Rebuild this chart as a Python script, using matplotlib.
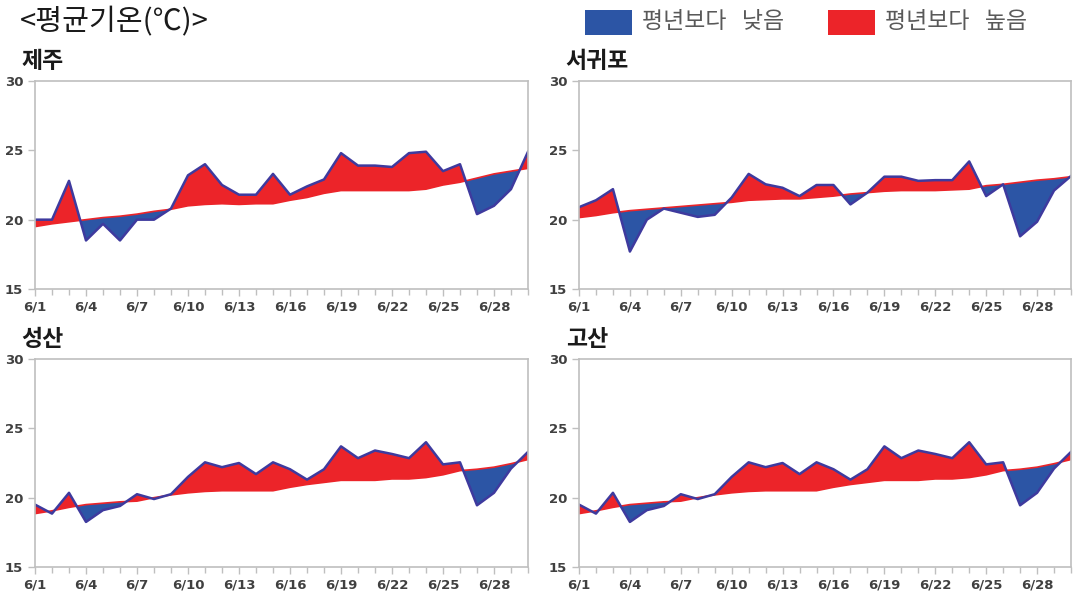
#!/usr/bin/env python3
"""Daily mean temperature vs normal for four Jeju stations, June."""
import numpy as np
import matplotlib

matplotlib.use("Agg")
import matplotlib.pyplot as plt
from matplotlib.patches import Rectangle

plt.rcParams["font.family"] = ["Noto Sans CJK KR", "DejaVu Sans"]

DAYS = [f"6/{d}" for d in range(1, 31)]

STATIONS = ["제주", "서귀포", "성산", "고산"]

jeju_obs = [20.0, 20.0, 22.8, 18.5, 19.7, 18.5, 20.0, 20.0, 20.8, 23.2,
            24.0, 22.5, 21.8, 21.8, 23.3, 21.8, 22.4, 22.9, 24.8, 23.9,
            23.9, 23.8, 24.8, 24.9, 23.5, 24.0, 20.4, 21.0, 22.2, 24.9]
jeju_norm = [19.5, 19.7, 19.85, 20.0, 20.15, 20.25, 20.4, 20.6, 20.75, 21.0,
             21.1, 21.15, 21.1, 21.15, 21.15, 21.4, 21.6, 21.9, 22.1, 22.1,
             22.1, 22.1, 22.1, 22.2, 22.5, 22.7, 23.0, 23.3, 23.5, 23.7]

seogwipo_obs = [20.9, 21.4, 22.2, 17.7, 20.0, 20.8, 20.5, 20.2, 20.35, 21.6,
                23.3, 22.55, 22.3, 21.7, 22.5, 22.5, 21.1, 21.95, 23.1, 23.1,
                22.8, 22.85, 22.85, 24.2, 21.7, 22.55, 18.8, 19.85, 22.1, 23.15]
seogwipo_norm = [20.15, 20.3, 20.5, 20.65, 20.75, 20.85, 20.95, 21.05, 21.15, 21.25,
                 21.4, 21.45, 21.5, 21.5, 21.6, 21.7, 21.85, 21.95, 22.05, 22.1,
                 22.1, 22.1, 22.15, 22.2, 22.45, 22.55, 22.7, 22.85, 22.95, 23.1]

seongsan_obs = [19.5, 18.85, 20.35, 18.25, 19.1, 19.4, 20.25, 19.9, 20.25, 21.5,
                22.55, 22.2, 22.5, 21.7, 22.55, 22.05, 21.3, 22.05, 23.7, 22.85,
                23.4, 23.15, 22.85, 24.0, 22.4, 22.55, 19.45, 20.35, 22.1, 23.3]
seongsan_norm = [18.85, 19.05, 19.3, 19.5, 19.6, 19.7, 19.75, 20.0, 20.2, 20.35,
                 20.45, 20.5, 20.5, 20.5, 20.5, 20.75, 20.95, 21.1, 21.25, 21.25,
                 21.25, 21.35, 21.35, 21.45, 21.65, 21.95, 22.05, 22.2, 22.45, 22.75]

gosan_obs = [19.5, 18.85, 20.35, 18.25, 19.1, 19.4, 20.25, 19.9, 20.25, 21.5,
             22.55, 22.2, 22.5, 21.7, 22.55, 22.05, 21.3, 22.05, 23.7, 22.85,
             23.4, 23.15, 22.85, 24.0, 22.4, 22.55, 19.45, 20.35, 22.1, 23.3]
gosan_norm = [18.85, 19.05, 19.3, 19.5, 19.6, 19.7, 19.75, 20.0, 20.2, 20.35,
              20.45, 20.5, 20.5, 20.5, 20.5, 20.75, 20.95, 21.1, 21.25, 21.25,
              21.25, 21.35, 21.35, 21.45, 21.65, 21.95, 22.05, 22.2, 22.45, 22.75]

SERIES = [(jeju_obs, jeju_norm), (seogwipo_obs, seogwipo_norm),
          (seongsan_obs, seongsan_norm), (gosan_obs, gosan_norm)]

BLUE = "#2C55A5"
RED = "#EC2429"
LINE = "#3E3A9E"
GRID = "#BFBFBF"
TEXT = "#404040"

W, H = 1077, 592
# axes boxes in pixels: left, top, right, bottom
BOXES = [(35, 81, 528, 289), (579, 81, 1071, 289),
         (35, 359, 528, 567), (579, 359, 1071, 567)]


def draw_panel(ax, name, obs, norm):
    x = np.arange(len(DAYS))
    obs = np.asarray(obs)
    norm = np.asarray(norm)
    ax.fill_between(x, obs, norm, where=obs >= norm, interpolate=True,
                    color=RED, lw=0)
    ax.fill_between(x, obs, norm, where=obs < norm, interpolate=True,
                    color=BLUE, lw=0)
    ax.plot(x, norm, color=RED, lw=1.2)
    ax.plot(x, obs, color=LINE, lw=1.8)

    ax.set_xlim(0, len(DAYS) - 1)
    ax.set_ylim(15, 30)
    ax.set_yticks([15, 20, 25, 30])
    ax.set_xticks(x[::3])
    ax.set_xticklabels(DAYS[::3])
    ax.set_xticks(x, minor=True)
    ax.tick_params(axis="both", which="both", direction="out", color=GRID,
                   labelcolor=TEXT, labelsize=9.5)
    ax.tick_params(axis="both", which="major", length=5, width=1)
    ax.tick_params(axis="x", which="minor", length=4, width=1)
    for lab in ax.get_xticklabels() + ax.get_yticklabels():
        lab.set_fontweight("bold")
        lab.set_family(["DejaVu Sans"])
    for side in ("left", "bottom", "top", "right"):
        ax.spines[side].set_color(GRID)
        ax.spines[side].set_linewidth(1.2)
    ax.text(-0.027, 1.04, name, transform=ax.transAxes, fontsize=16.5,
            fontweight="bold", color="#1a1a1a", ha="left", va="bottom")


def main():
    fig = plt.figure(figsize=(W / 100, H / 100), dpi=100)
    for (l, t, r, b), name, (obs, norm) in zip(BOXES, STATIONS, SERIES):
        ax = fig.add_axes([l / W, 1 - b / H, (r - l) / W, (b - t) / H])
        draw_panel(ax, name, obs, norm)

    fig.text(20 / W, 1 - 22 / H, "<평균기온(℃)>", fontsize=21, color="#1a1a1a",
             ha="left", va="center")

    for x0, color, label in [(585, BLUE, "평년보다   낮음"), (828, RED, "평년보다   높음")]:
        fig.add_artist(Rectangle((x0 / W, 1 - 35 / H), 47 / W, 25 / H,
                                 transform=fig.transFigure, color=color, lw=0))
        fig.text((x0 + 57) / W, 1 - 22 / H, label, fontsize=16.5, color="#595959",
                 ha="left", va="center")

    fig.savefig("out.png", dpi=100)


if __name__ == "__main__":
    main()
